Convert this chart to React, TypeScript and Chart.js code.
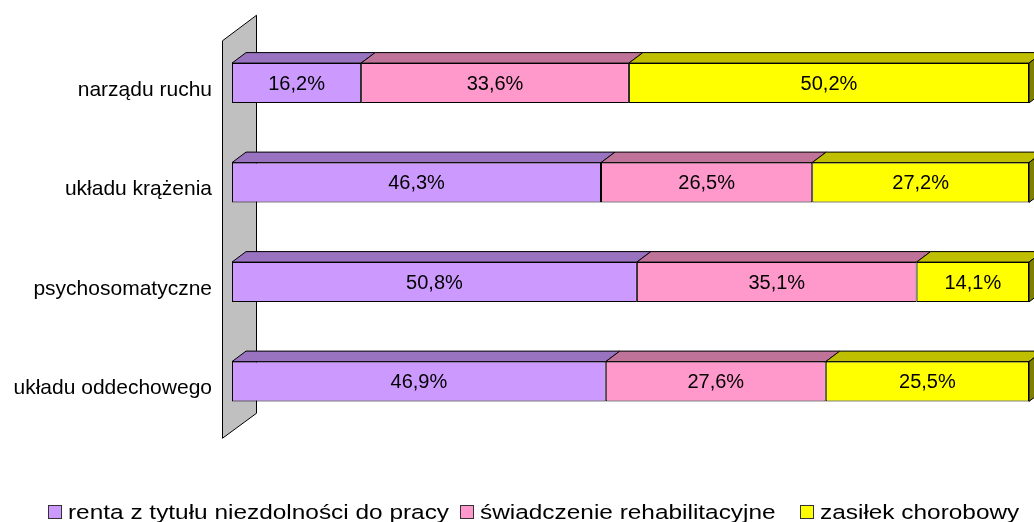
import React, { useEffect, useRef } from "react";
import { Chart, registerables } from "chart.js";

Chart.register(...registerables);

// ---- data ----
const categories = ["narządu ruchu", "układu krążenia", "psychosomatyczne", "układu oddechowego"];
const seriesNames = ["renta z tytułu niezdolności do pracy", "świadczenie rehabilitacyjne", "zasiłek chorobowy"];
const rentaValues = [16.2, 46.3, 50.8, 46.9];
const swiadczenieValues = [33.6, 26.5, 35.1, 27.6];
const zasilekValues = [50.2, 27.2, 14.1, 25.5];

// ---- styles ----
const FRONT = ["#cc99ff", "#ff99cc", "#ffff00"];
const TOP = ["#9973bf", "#bf7399", "#bfbf00"];
const SIDE = ["#7a5c99", "#995c7a", "#808000"];
const FONT = 'Arial, "Liberation Sans", sans-serif';
const DX = 14;
const DY = -10.5;

const fmt = (v: number) => v.toFixed(1).replace(".", ",") + "%";

const bar3d = {
  id: "bar3d",
  beforeDatasetsDraw(chart: any) {
    const { ctx, chartArea: a } = chart;
    ctx.save();
    const fx = a.left - 9.5;
    const bx = fx + 34;
    ctx.beginPath();
    ctx.moveTo(fx, a.top + 7.5);
    ctx.lineTo(bx, a.top - 18);
    ctx.lineTo(bx, a.bottom - 18);
    ctx.lineTo(fx, a.bottom + 7);
    ctx.closePath();
    ctx.fillStyle = "#c0c0c0";
    ctx.fill();
    ctx.strokeStyle = "#000";
    ctx.lineWidth = 1;
    ctx.stroke();
    ctx.restore();
  },
  afterDatasetsDraw(chart: any) {
    const ctx = chart.ctx;
    const n = chart.data.datasets.length;
    ctx.save();
    ctx.lineWidth = 1;
    ctx.strokeStyle = "#000";
    ctx.lineJoin = "miter";
    chart.data.datasets.forEach((ds: any, i: number) => {
      const meta = chart.getDatasetMeta(i);
      meta.data.forEach((el: any) => {
        const { x, y, base, height } = el.getProps(["x", "y", "base", "height"], true);
        const l = Math.min(x, base);
        const r = Math.max(x, base);
        const t = y - height / 2;
        const b = y + height / 2;
        ctx.beginPath();
        ctx.moveTo(l, t);
        ctx.lineTo(l + DX, t + DY);
        ctx.lineTo(r + DX, t + DY);
        ctx.lineTo(r, t);
        ctx.closePath();
        ctx.fillStyle = TOP[i];
        ctx.fill();
        ctx.stroke();
        if (i === n - 1) {
          ctx.beginPath();
          ctx.moveTo(r, t);
          ctx.lineTo(r + DX, t + DY);
          ctx.lineTo(r + DX, b + DY);
          ctx.lineTo(r, b);
          ctx.closePath();
          ctx.fillStyle = SIDE[i];
          ctx.fill();
          ctx.stroke();
        }
      });
    });
    ctx.fillStyle = "#000";
    ctx.font = `20px ${FONT}`;
    ctx.textAlign = "center";
    ctx.textBaseline = "middle";
    chart.data.datasets.forEach((ds: any, i: number) => {
      const meta = chart.getDatasetMeta(i);
      meta.data.forEach((el: any, j: number) => {
        const { x, y, base } = el.getProps(["x", "y", "base"], true);
        ctx.fillText(fmt(ds.data[j]), (x + base) / 2, y + 1);
      });
    });
    ctx.restore();
  },
};

export default function App() {
  const ref = useRef<HTMLCanvasElement | null>(null);

  useEffect(() => {
    if (!ref.current) return;
    const values = [rentaValues, swiadczenieValues, zasilekValues];
    const chart = new Chart(ref.current, {
      type: "bar",
      data: {
        labels: categories,
        datasets: seriesNames.map((name, i) => ({
          label: name,
          data: values[i],
          backgroundColor: FRONT[i],
          borderColor: "#000",
          borderWidth: 1,
          borderSkipped: false,
          barPercentage: 0.4,
          categoryPercentage: 1,
        })),
      },
      options: {
        indexAxis: "y",
        animation: false,
        responsive: false,
        devicePixelRatio: 1,
        layout: { padding: { left: 0, right: 5, top: 33.25, bottom: 90.75 } },
        plugins: { legend: { display: false }, tooltip: { enabled: false } },
        scales: {
          x: { stacked: true, min: 0, max: 100, display: false },
          y: {
            stacked: true,
            grid: { display: false, drawTicks: false },
            border: { display: false },
            ticks: {
              color: "#000",
              font: { family: FONT, size: 21 },
              padding: 20,
              labelOffset: 7,
            },
            afterFit(scale: any) {
              scale.width = 232;
            },
          },
        },
      },
      plugins: [bar3d],
    } as any);
    return () => chart.destroy();
  }, []);

  const legendX = [48, 460, 800];

  return (
    <div style={{ position: "fixed", left: 0, top: 0, width: 1034, height: 522, background: "#fff", overflow: "hidden" }}>
      <canvas ref={ref} width={1034} height={522} style={{ position: "absolute", left: 0, top: 0, width: 1034, height: 522 }} />
      {seriesNames.map((name, i) => (
        <div key={name} style={{ position: "absolute", left: legendX[i], top: 500, height: 24 }}>
          <div
            style={{
              position: "absolute",
              left: 0,
              top: 5,
              width: 12,
              height: 12,
              background: FRONT[i],
              border: "1px solid #333",
            }}
          />
          <span
            style={{
              position: "absolute",
              left: 20,
              top: 0,
              whiteSpace: "nowrap",
              fontFamily: FONT,
              fontSize: 20.5,
              lineHeight: "normal",
              color: "#000",
              transform: "scaleX(1.19)",
              transformOrigin: "left center",
            }}
          >
            {name}
          </span>
        </div>
      ))}
    </div>
  );
}
